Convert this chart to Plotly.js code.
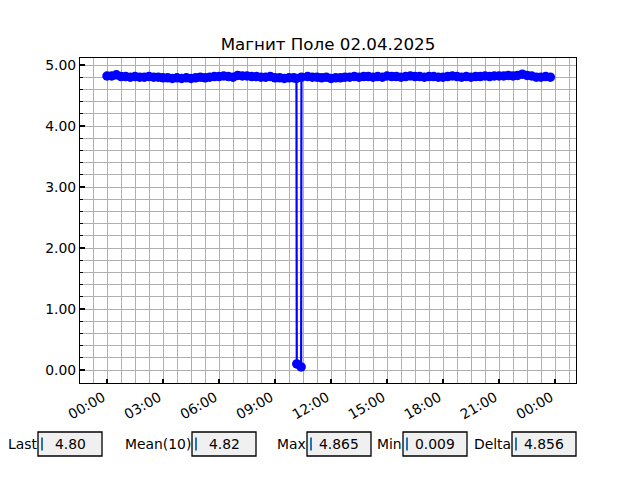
<!DOCTYPE html>
<html>
<head>
<meta charset="utf-8">
<script src="https://cdn.plot.ly/plotly-3.0.1.min.js"></script>
<style>html,body{margin:0;padding:0;background:#fff;}#chart{width:640px;height:480px;}</style>
</head>
<body>
<div id="chart"></div>
<script>
// --- data ---
var dayStart = "2025-04-02";
// values every 15 minutes, per hour (4 per hour), hour 10 handled with spike
var hourlyValues = [
  [4.82, 4.82, 4.84, 4.81],
  [4.81, 4.80, 4.81, 4.80],
  [4.80, 4.81, 4.80, 4.80],
  [4.79, 4.79, 4.78, 4.79],
  [4.78, 4.79, 4.78, 4.79],
  [4.80, 4.79, 4.80, 4.81],
  [4.81, 4.82, 4.81, 4.80],
  [4.83, 4.82, 4.82, 4.81],
  [4.81, 4.80, 4.80, 4.81],
  [4.79, 4.79, 4.78, 4.79],
  null,
  [4.80, 4.80, 4.79, 4.80],
  [4.78, 4.79, 4.79, 4.80],
  [4.80, 4.81, 4.80, 4.81],
  [4.81, 4.80, 4.81, 4.80],
  [4.82, 4.81, 4.81, 4.80],
  [4.81, 4.82, 4.81, 4.81],
  [4.80, 4.81, 4.81, 4.80],
  [4.80, 4.81, 4.82, 4.81],
  [4.80, 4.81, 4.80, 4.81],
  [4.81, 4.82, 4.81, 4.82],
  [4.82, 4.82, 4.83, 4.82],
  [4.83, 4.85, 4.83, 4.82],
  [4.80, 4.80, 4.81, 4.80]
];
// hour 10 (including the dropout)
var spikeTimes  = ["10:00", "10:09", "10:10", "10:24", "10:25", "10:45"];
var spikeValues = [4.79, 4.78, 0.10, 0.05, 4.80, 4.81];

var statLabels = ["Last", "Mean(10)", "Max", "Min", "Delta"];
var statValues = ["4.80", "4.82", "4.865", "0.009", "4.856"];

var titleText = "Магнит Поле 02.04.2025";

// --- build series ---
function pad(n){return (n<10?"0":"")+n;}
var xs = [], ys = [];
for (var h = 0; h < 24; h++) {
  if (hourlyValues[h] === null) {
    for (var k = 0; k < spikeTimes.length; k++) {
      xs.push(dayStart + " " + spikeTimes[k]);
      ys.push(spikeValues[k]);
    }
    continue;
  }
  for (var q = 0; q < 4; q++) {
    xs.push(dayStart + " " + pad(h) + ":" + pad(q*15));
    ys.push(hourlyValues[h][q]);
  }
}

// --- layout geometry (pixels) ---
var W = 640, H = 480;
var L = 80, R = 576, T = 58, B = 383;
function px2x(p){return (p - L)/(R - L);}
function px2y(p){return (B - p)/(B - T);}

var boxes = [
  {lab: 39, x0: 38, x1: 102},
  {lab: 193, x0: 192, x1: 256},
  {lab: 308, x0: 307, x1: 371},
  {lab: 404, x0: 403, x1: 467},
  {lab: 513, x0: 512, x1: 576}
];
var bTop = 432, bBot = 456;

var shapes = [], annotations = [];
var font = "DejaVu Sans, sans-serif";
boxes.forEach(function(b, i){
  shapes.push({type: "rect", xref: "paper", yref: "paper",
    x0: px2x(b.x0), x1: px2x(b.x1), y0: px2y(bBot), y1: px2y(bTop),
    fillcolor: "#f0f0f0", line: {color: "#000", width: 1.3}});
  shapes.push({type: "line", xref: "paper", yref: "paper",
    x0: px2x(b.x0 + 4), x1: px2x(b.x0 + 4), y0: px2y(450.5), y1: px2y(437.5),
    line: {color: "#1f77b4", width: 2}});
  annotations.push({xref: "paper", yref: "paper", x: px2x(b.lab), y: px2y(443.5),
    xanchor: "right", yanchor: "middle", showarrow: false, text: statLabels[i],
    font: {family: font, size: 13.9, color: "#000"}});
  annotations.push({xref: "paper", yref: "paper", x: px2x((b.x0 + b.x1)/2), y: px2y(443.5),
    xanchor: "center", yanchor: "middle", showarrow: false, text: statValues[i],
    font: {family: font, size: 13.9, color: "#000"}});
});

var trace = {
  x: xs, y: ys, type: "scatter", mode: "lines+markers",
  line: {color: "#0000ff", width: 2.2},
  marker: {color: "#0000ff", size: 9.5},
  hoverinfo: "skip"
};

var layout = {
  width: W, height: H,
  margin: {l: L, r: W - R, t: T, b: H - B, pad: 0},
  paper_bgcolor: "#fff", plot_bgcolor: "#fff",
  showlegend: false,
  font: {family: font, size: 13.9, color: "#000"},
  title: {text: titleText, x: (L + R)/2/W, xanchor: "center", xref: "container",
    y: 1 - 44/H, yanchor: "middle", yref: "container",
    font: {family: font, size: 16.7, color: "#000"}},
  xaxis: {
    type: "date",
    range: ["2025-04-01 22:33:12", "2025-04-03 01:07:30"],
    tick0: "2025-04-02 00:00", dtick: 3*3600*1000,
    tickformat: "%H:%M", tickangle: -30, ticklabelshift: -4,
    ticks: "inside", ticklen: 4, tickwidth: 2, tickcolor: "#000",
    showgrid: true, gridcolor: "#b0b0b0", gridwidth: 1,
    minor: {tick0: "2025-04-02 00:00", dtick: 45*60*1000, showgrid: true, gridcolor: "#b0b0b0", gridwidth: 1, ticks: ""},
    showline: true, linecolor: "#000", linewidth: 1.1, mirror: true,
    zeroline: false,
    tickfont: {family: font, size: 13.9, color: "#000"}
  },
  yaxis: {
    range: [-0.213, 5.115],
    tick0: 0, dtick: 1, tickformat: ".2f",
    ticks: "inside", ticklen: 5, tickwidth: 2, tickcolor: "#000",
    showgrid: true, gridcolor: "#b0b0b0", gridwidth: 1,
    minor: {tick0: 0, dtick: 0.2, showgrid: true, gridcolor: "#b0b0b0", gridwidth: 1, ticks: "inside", ticklen: 3, tickwidth: 1, tickcolor: "#000"},
    showline: true, linecolor: "#000", linewidth: 1.1, mirror: true,
    zeroline: false,
    tickfont: {family: font, size: 13.9, color: "#000"}
  },
  shapes: shapes,
  annotations: annotations
};

Plotly.newPlot("chart", [trace], layout, {displayModeBar: false, staticPlot: true});
</script>
</body>
</html>
